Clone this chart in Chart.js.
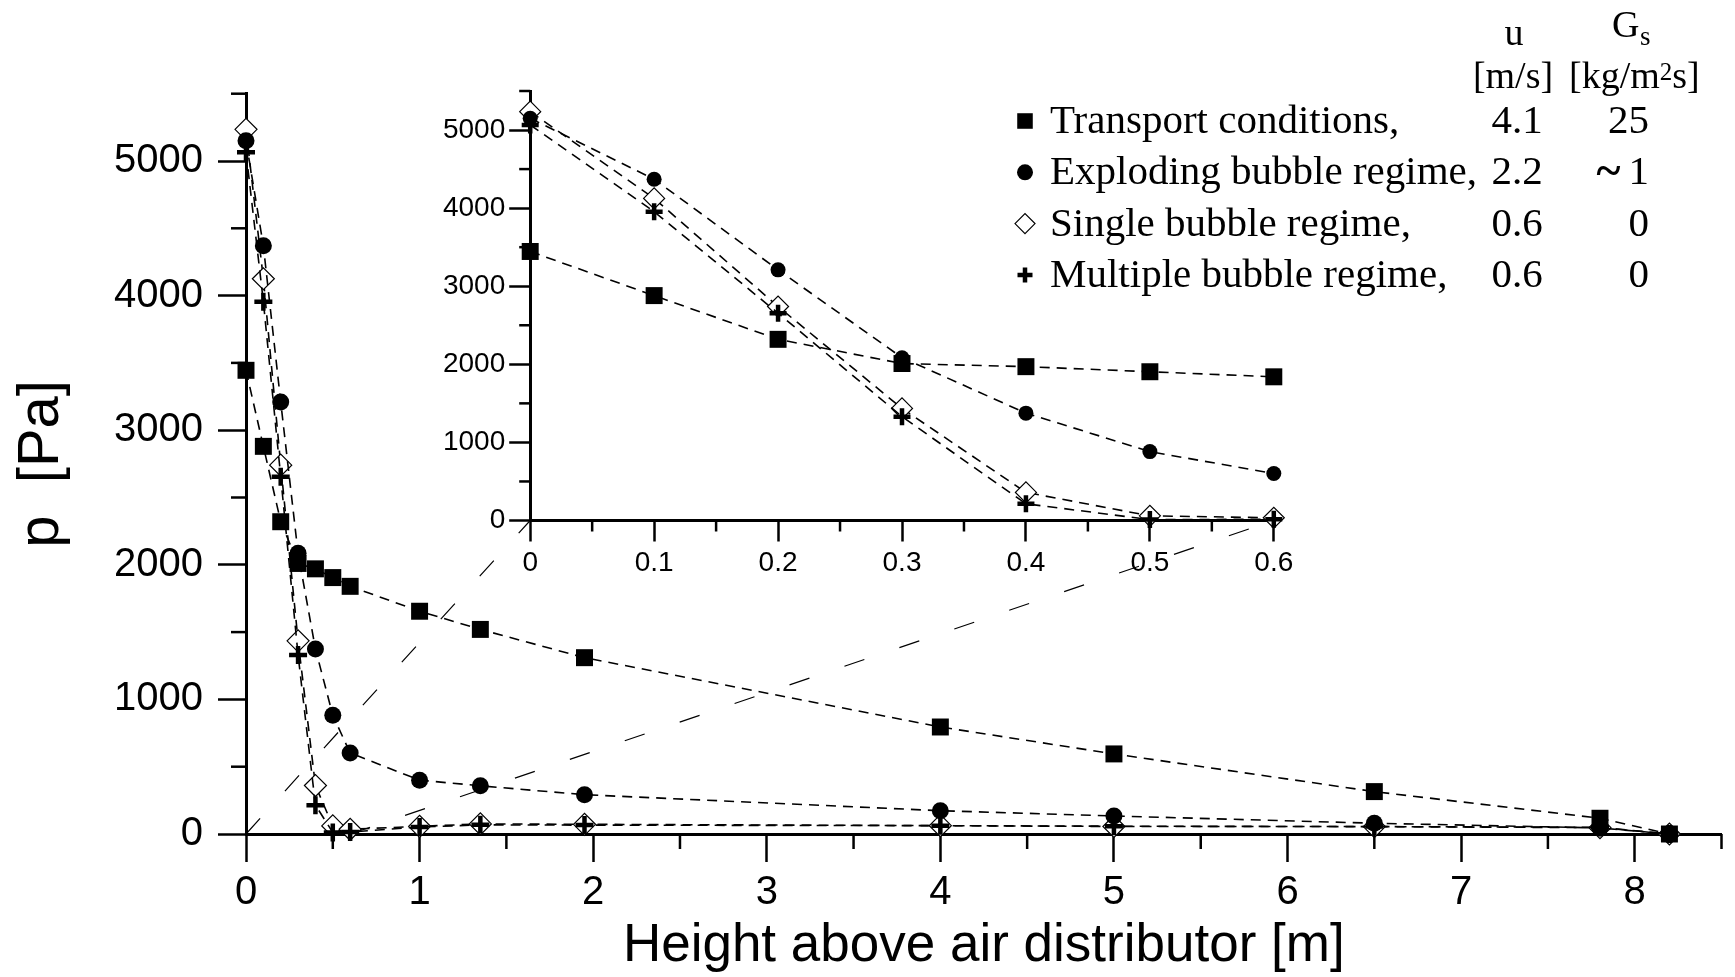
<!DOCTYPE html>
<html>
<head>
<meta charset="utf-8">
<title>Pressure profile above the air distributor</title>
<script src="https://cdn.jsdelivr.net/npm/chart.js@4.4.1/dist/chart.umd.min.js"></script>
<style>
  html, body { margin: 0; padding: 0; background: #fff; }
  #wrap { position: relative; width: 1735px; height: 977px; overflow: hidden; }
  #mainChart { position: absolute; left: 0; top: 0; }
  #insetChart { position: absolute; left: 400px; top: 60px; }
</style>
</head>
<body>
<div id="wrap">
  <canvas id="mainChart" width="1735" height="977"></canvas>
  <canvas id="insetChart" width="900" height="540"></canvas>
</div>
<script>
// Pressure p [Pa] against height above the air distributor [m]
const heights = [0, 0.1, 0.2, 0.3, 0.4, 0.5, 0.6, 1.0, 1.35, 1.95, 4.0, 5.0, 6.5, 7.8, 8.2];
const transportP = [3445, 2880, 2320, 2010, 1970, 1905, 1840, 1655, 1520, 1310, 795, 595, 315, 117, 0];
const explodingP = [5150, 4370, 3210, 2085, 1375, 882, 602, 400, 358, 292, 173, 134, 80, 45, 0];
const singleP = [5235, 4125, 2740, 1435, 360, 60, 35, 57, 75, 72, 62, 56, 55, 47, 0];
const multipleP = [5065, 3955, 2655, 1330, 214, 12, 15, 52, 68, 66, 62, 58, 55, 50, 0];

// Legend table: regime, superficial velocity u [m/s], solids flux Gs [kg/m2s]
const regimeLabels = ['Transport conditions,', 'Exploding bubble regime,', 'Single bubble regime,', 'Multiple bubble regime,'];
const gasVelocity = ['4.1', '2.2', '0.6', '0.6'];
const solidsFlux = ['25', '~1', '0', '0'];

// Axis ranges and labelled ticks
const mainXRange = [0, 8.5];
const mainYRange = [0, 5500];
const mainXTicks = [0, 1, 2, 3, 4, 5, 6, 7, 8];
const mainYTicks = [0, 1000, 2000, 3000, 4000, 5000];
const insetXRange = [0, 0.605];
const insetYRange = [0, 5500];
const insetXTicks = [0, 0.1, 0.2, 0.3, 0.4, 0.5, 0.6];
const insetYTicks = [0, 1000, 2000, 3000, 4000, 5000];
// bottom section of the column that is magnified in the inset
const zoomEdges = [0, 0.6];

Chart.defaults.font.family = '"Liberation Sans", Arial, Helvetica, sans-serif';
Chart.defaults.color = '#000';

const seriesValues = [transportP, explodingP, singleP, multipleP];

// marker look per regime; radius = [main, inset, legend]
const markerStyles = [
  { pointStyle: 'rect', fill: '#000', stroke: '#000', width: 0, radius: [12, 12, 11], order: 1 },
  { pointStyle: 'circle', fill: '#000', stroke: '#000', width: 0, radius: [8.5, 7.5, 8], order: 1 },
  { pointStyle: 'rectRot', fill: '#fff', stroke: '#000', width: 1.2, radius: [11, 10.5, 10], order: 2 },
  { pointStyle: 'cross', fill: '#000', stroke: '#000', width: 4.5, radius: [9, 8.5, 7.5], order: 1 }
];

function buildDatasets(maxHeight, which) {
  return seriesValues.map((values, i) => {
    const style = markerStyles[i];
    const data = [];
    heights.forEach((h, k) => {
      if (h <= maxHeight) data.push({ x: h, y: values[k] });
    });
    return {
      label: regimeLabels[i],
      data: data,
      order: style.order,
      clip: false,
      borderColor: '#000',
      borderWidth: 1.6,
      borderDash: [10, 7],
      tension: 0,
      fill: false,
      pointStyle: style.pointStyle,
      pointRadius: style.radius[which],
      pointBackgroundColor: style.fill,
      pointBorderColor: style.stroke,
      pointBorderWidth: style.width
    };
  });
}

// Short unlabelled ticks between the labelled ones
const minorTicks = {
  id: 'minorTicks',
  afterDraw(chart, args, opts) {
    const ctx = chart.ctx;
    const area = chart.chartArea;
    ctx.save();
    ctx.strokeStyle = '#000';
    ctx.lineWidth = opts.width;
    for (const id of ['x', 'y']) {
      const scale = chart.scales[id];
      const cfg = opts[id];
      for (let k = 1; k * cfg.step <= scale.max + 1e-9; k++) {
        const v = k * cfg.step;
        const r = v / cfg.major;
        if (Math.abs(r - Math.round(r)) < 1e-6) continue;
        const p = scale.getPixelForValue(v);
        ctx.beginPath();
        if (scale.isHorizontal()) {
          ctx.moveTo(p, area.bottom);
          ctx.lineTo(p, area.bottom + cfg.length);
        } else {
          ctx.moveTo(area.left, p);
          ctx.lineTo(area.left - cfg.length, p);
        }
        ctx.stroke();
      }
    }
    ctx.restore();
  }
};

function axisOptions(range, tickValues, opts) {
  return {
    type: 'linear',
    min: range[0],
    max: range[1],
    afterBuildTicks(scale) {
      scale.ticks = tickValues.map(v => ({ value: v }));
    },
    ticks: {
      autoSkip: false,
      maxRotation: 0,
      padding: opts.padding,
      font: { size: opts.fontSize },
      color: '#000',
      callback: v => String(Math.round(v * 100) / 100)
    },
    grid: {
      drawOnChartArea: false,
      drawTicks: true,
      tickLength: opts.tickLength,
      tickWidth: 2.5,
      tickColor: '#000'
    },
    border: { display: true, width: 3, color: '#000' },
    title: opts.title || { display: false },
    afterFit(scale) {
      if (scale.isHorizontal()) scale.height = opts.size;
      else scale.width = opts.size;
    }
  };
}

// ---- inset: lower 0.6 m of the column ----
const insetCanvas = document.getElementById('insetChart');
const insetChart = new Chart(insetCanvas, {
  type: 'scatter',
  data: { datasets: buildDatasets(zoomEdges[1], 1) },
  options: {
    responsive: false,
    animation: false,
    events: [],
    showLine: true,
    layout: { padding: { left: 0, top: 31, right: 20, bottom: 0 } },
    plugins: {
      legend: { display: false },
      tooltip: { enabled: false },
      minorTicks: {
        width: 2.5,
        x: { step: 0.05, major: 0.1, length: 11 },
        y: { step: 500, major: 1000, length: 11 }
      }
    },
    scales: {
      x: axisOptions(insetXRange, insetXTicks, { padding: 5, fontSize: 28, tickLength: 21, size: 79.5 }),
      y: axisOptions(insetYRange, insetYTicks, { padding: 4, fontSize: 28, tickLength: 21, size: 130.2 })
    }
  },
  plugins: [minorTicks]
});

// Dashed lines tying the magnified section to the inset axes
const insetGuides = {
  id: 'insetGuides',
  beforeDatasetsDraw(chart) {
    const ctx = chart.ctx;
    const ox = insetCanvas.offsetLeft;
    const oy = insetCanvas.offsetTop;
    ctx.save();
    ctx.strokeStyle = '#000';
    ctx.lineWidth = 1.2;
    ctx.setLineDash([21, 37]);
    for (const v of zoomEdges) {
      ctx.beginPath();
      ctx.moveTo(chart.scales.x.getPixelForValue(v), chart.scales.y.getPixelForValue(0));
      ctx.lineTo(ox + insetChart.scales.x.getPixelForValue(v), oy + insetChart.scales.y.getPixelForValue(0));
      ctx.stroke();
    }
    ctx.restore();
  }
};

// Legend laid out as a small table with u and Gs columns
const regimeLegend = {
  id: 'regimeLegend',
  afterDraw(chart) {
    const ctx = chart.ctx;
    const serif = '"Liberation Serif", "Times New Roman", Times, serif';
    ctx.save();
    ctx.fillStyle = '#000';
    ctx.textBaseline = 'alphabetic';

    // column headers
    ctx.font = '38px ' + serif;
    ctx.textAlign = 'center';
    ctx.fillText('u', 1514, 45);
    ctx.fillText('[m/s]', 1513, 88);

    ctx.textAlign = 'left';
    ctx.fillText('G', 1612, 37);
    ctx.font = '27px ' + serif;
    ctx.fillText('s', 1640, 45);

    ctx.font = '38px ' + serif;
    let x = 1569;
    ctx.fillText('[kg/m', x, 88);
    x += ctx.measureText('[kg/m').width;
    ctx.font = '25px ' + serif;
    ctx.fillText('2', x, 80);
    x += ctx.measureText('2').width;
    ctx.font = '38px ' + serif;
    ctx.fillText('s]', x, 88);

    // rows
    regimeLabels.forEach((label, i) => {
      const y = 133 + i * 51.3;
      const style = markerStyles[i];
      ctx.fillStyle = style.fill;
      ctx.strokeStyle = style.stroke;
      ctx.lineWidth = style.width;
      Chart.helpers.drawPoint(ctx, {
        pointStyle: style.pointStyle,
        radius: style.radius[2],
        rotation: 0,
        borderWidth: style.width
      }, 1025, y - 12);

      ctx.fillStyle = '#000';
      ctx.font = '41px ' + serif;
      ctx.textAlign = 'left';
      ctx.fillText(label, 1050, y);

      ctx.textAlign = 'center';
      ctx.fillText(gasVelocity[i], 1517, y);

      const gs = solidsFlux[i];
      ctx.textAlign = 'right';
      if (gs.startsWith('~')) {
        const num = gs.slice(1);
        ctx.fillText(num, 1649, y);
        const w = ctx.measureText(num).width;
        ctx.font = 'bold 46px ' + serif;
        ctx.fillText('~', 1649 - w - 8, y + 2);
      } else {
        ctx.fillText(gs, 1649, y);
      }
    });
    ctx.restore();
  }
};

// ---- main chart: full column height ----
const mainChart = new Chart(document.getElementById('mainChart'), {
  type: 'scatter',
  data: { datasets: buildDatasets(Infinity, 0) },
  options: {
    responsive: false,
    animation: false,
    events: [],
    showLine: true,
    layout: { padding: { left: 0, top: 93.7, right: 4, bottom: 0 } },
    plugins: {
      legend: { display: false },
      tooltip: { enabled: false },
      minorTicks: {
        width: 2.5,
        x: { step: 0.5, major: 1, length: 15 },
        y: { step: 500, major: 1000, length: 15 }
      }
    },
    scales: {
      x: axisOptions(mainXRange, mainXTicks, {
        padding: 7, fontSize: 40, tickLength: 28, size: 143,
        title: {
          display: true,
          text: 'Height above air distributor [m]',
          font: { size: 53, lineHeight: 1 },
          padding: { top: 0, bottom: 4 },
          color: '#000'
        }
      }),
      y: axisOptions(mainYRange, mainYTicks, {
        padding: 15, fontSize: 40, tickLength: 28, size: 246,
        title: {
          display: true,
          text: 'p  [Pa]',
          font: { size: 58, lineHeight: 1 },
          padding: { top: 13, bottom: 0 },
          color: '#000'
        }
      })
    }
  },
  plugins: [minorTicks, insetGuides, regimeLegend]
});
</script>
</body>
</html>
